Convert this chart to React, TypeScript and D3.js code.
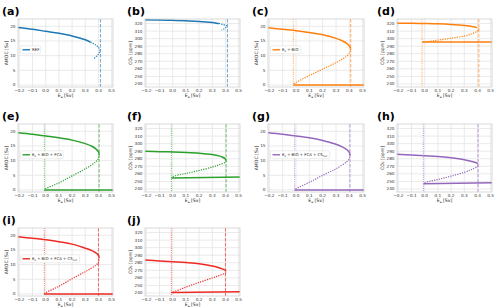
import React from "react";
import * as d3 from "d3";

// x axis (freshwater forcing, Sv)
const xTicks = [-0.2, -0.1, 0.0, 0.1, 0.2, 0.3, 0.4, 0.5];
const amocTicks = [0, 5, 10, 15, 20];
const co2Ticks = [240, 250, 260, 270, 280, 290, 300, 310, 320];

// (a) REF
const refAmocUpper = [[-0.21, 19.6], [-0.1, 19.0], [0, 18.3], [0.1, 17.6], [0.2, 16.7], [0.3, 15.4], [0.34, 14.6]];
const refAmocUnstable = [[0.34, 14.6], [0.38, 13.6], [0.4, 12.8], [0.41, 12.0], [0.405, 11.0], [0.39, 10.0], [0.36, 8.8]];
// (b) REF
const refCo2Upper = [[-0.21, 325], [-0.1, 324.6], [0, 324.2], [0.1, 323.6], [0.2, 322.8], [0.3, 321.3], [0.35, 320]];
const refCo2Unstable = [[0.35, 320], [0.38, 318.8], [0.4, 317.5], [0.41, 316.5], [0.405, 315], [0.39, 313], [0.37, 311]];
const refVlines = [0.415];

// (c) BIO
const bioAmocUpper = [[-0.21, 19.5], [-0.1, 19.0], [0, 18.5], [0.1, 17.9], [0.2, 17.1], [0.3, 15.9], [0.35, 15.0], [0.38, 14.2], [0.4, 13.3], [0.41, 12.4]];
const bioAmocUnstable = [[0.41, 12.4], [0.405, 11.2], [0.38, 9.8], [0.3, 7.6], [0.2, 5.4], [0.1, 3.2], [0.0, 0.8], [-0.02, 0]];
const bioAmocLower = [[-0.02, 0], [0.51, 0]];
// (d) BIO
const bioCo2Upper = [[-0.21, 320.5], [-0.1, 320.3], [0, 320], [0.1, 319.6], [0.2, 318.8], [0.3, 317.5], [0.37, 315.8], [0.39, 315]];
const bioCo2Unstable = [[0.39, 315], [0.41, 313], [0.4, 310], [0.35, 306], [0.3, 303.5], [0.2, 300.5], [0.1, 298], [0.05, 296.8], [-0.02, 295.5]];
const bioCo2Lower = [[-0.02, 295.5], [0.51, 295.5]];
const bioVlines = [-0.02, 0.41];

// (e) BIO + FCA
const fcaAmocUpper = [[-0.21, 19.5], [-0.1, 19.0], [0, 18.4], [0.1, 17.8], [0.2, 17.0], [0.3, 15.8], [0.35, 14.9], [0.38, 14.0], [0.4, 13.0], [0.405, 12.2]];
const fcaAmocUnstable = [[0.405, 12.2], [0.4, 10.8], [0.38, 9.6], [0.3, 7.2], [0.2, 4.8], [0.1, 2.4], [0.0, 0.4], [-0.01, 0]];
const fcaAmocLower = [[-0.01, 0], [0.51, 0]];
// (f) BIO + FCA
const fcaCo2Upper = [[-0.21, 289.8], [-0.1, 289.4], [0, 289], [0.1, 288.4], [0.2, 287.4], [0.3, 285.5], [0.35, 283.8], [0.38, 282], [0.4, 279.5], [0.405, 277.5]];
const fcaCo2Unstable = [[0.405, 277.5], [0.4, 275.5], [0.35, 272], [0.3, 269], [0.2, 264.5], [0.1, 260.5], [0.0, 256.5], [-0.01, 255]];
const fcaCo2Lower = [[-0.01, 254.5], [0.51, 256]];
const fcaVlines = [-0.01, 0.405];

// (g) BIO + FCA + CS_hor
const horAmocUpper = [[-0.21, 19.5], [-0.1, 19.0], [0, 18.4], [0.1, 17.8], [0.2, 16.9], [0.3, 15.6], [0.35, 14.6], [0.38, 13.8], [0.4, 12.8], [0.405, 12.0]];
const horAmocUnstable = [[0.405, 12.0], [0.4, 10.6], [0.38, 9.6], [0.3, 7.2], [0.2, 5.0], [0.1, 2.6], [0.0, 0.4], [-0.01, 0]];
const horAmocLower = [[-0.01, 0], [0.51, 0]];
// (h)
const horCo2Upper = [[-0.21, 286], [-0.1, 285], [0, 284], [0.1, 283], [0.2, 281.2], [0.3, 278.7], [0.35, 276.8], [0.38, 275.3], [0.4, 274]];
const horCo2Unstable = [[0.4, 274], [0.405, 272.5], [0.4, 270], [0.35, 265.5], [0.3, 262], [0.2, 257], [0.1, 252.5], [0.0, 248.5], [-0.01, 247.5]];
const horCo2Lower = [[-0.01, 246.8], [0.51, 248.2]];
const horVlines = [-0.01, 0.405];

// (i) BIO + FCA + CS_ver
const verAmocUpper = [[-0.21, 19.5], [-0.1, 19.0], [0, 18.5], [0.1, 17.8], [0.2, 17.0], [0.3, 15.6], [0.35, 14.8], [0.38, 14.0], [0.4, 13.2], [0.405, 12.6]];
const verAmocUnstable = [[0.405, 12.6], [0.4, 10.8], [0.38, 9.8], [0.3, 7.6], [0.2, 5.2], [0.1, 2.6], [0.0, 0.4], [-0.01, 0]];
const verAmocLower = [[-0.01, 0], [0.51, 0]];
// (j)
const verCo2Upper = [[-0.21, 283.5], [-0.1, 282.4], [0, 281.3], [0.1, 280.2], [0.2, 278.7], [0.3, 275.7], [0.35, 273.5], [0.38, 271.5], [0.4, 270]];
const verCo2Unstable = [[0.4, 270], [0.405, 268.5], [0.4, 266.5], [0.35, 263], [0.3, 259.8], [0.2, 254], [0.1, 247.7], [0.0, 241], [-0.01, 240.5]];
const verCo2Lower = [[-0.01, 240.5], [0.51, 241.5]];
const verVlines = [-0.01, 0.4];

const BLUE = "#1f77b4";
const ORANGE = "#ff7f0e";
const GREEN = "#2ca02c";
const PURPLE = "#9467bd";
const RED = "#ee2a24";

const colX = [18, 145, 268, 397];
const colW = [95, 95, 96, 95];
const labelX = [2, 127, 252, 377];
const rowY = [0, 105, 209];

const panels = [
  { label: "(a)", col: 0, row: 0, kind: "amoc", color: BLUE, legend: "REF", upper: refAmocUpper, unstable: refAmocUnstable, lower: null, vlines: refVlines },
  { label: "(b)", col: 1, row: 0, kind: "co2", color: BLUE, upper: refCo2Upper, unstable: refCo2Unstable, lower: null, vlines: refVlines },
  { label: "(c)", col: 2, row: 0, kind: "amoc", color: ORANGE, legend: "E_{s} + BIO", upper: bioAmocUpper, unstable: bioAmocUnstable, lower: bioAmocLower, vlines: bioVlines },
  { label: "(d)", col: 3, row: 0, kind: "co2", color: ORANGE, upper: bioCo2Upper, unstable: bioCo2Unstable, lower: bioCo2Lower, vlines: bioVlines },
  { label: "(e)", col: 0, row: 1, kind: "amoc", color: GREEN, legend: "E_{s} + BIO + FCA", upper: fcaAmocUpper, unstable: fcaAmocUnstable, lower: fcaAmocLower, vlines: fcaVlines },
  { label: "(f)", col: 1, row: 1, kind: "co2", color: GREEN, upper: fcaCo2Upper, unstable: fcaCo2Unstable, lower: fcaCo2Lower, vlines: fcaVlines },
  { label: "(g)", col: 2, row: 1, kind: "amoc", color: PURPLE, legend: "E_{s} + BIO + FCA + CS_{hor}", upper: horAmocUpper, unstable: horAmocUnstable, lower: horAmocLower, vlines: horVlines },
  { label: "(h)", col: 3, row: 1, kind: "co2", color: PURPLE, upper: horCo2Upper, unstable: horCo2Unstable, lower: horCo2Lower, vlines: horVlines },
  { label: "(i)", col: 0, row: 2, kind: "amoc", color: RED, legend: "E_{s} + BIO + FCA + CS_{ver}", upper: verAmocUpper, unstable: verAmocUnstable, lower: verAmocLower, vlines: verVlines },
  { label: "(j)", col: 1, row: 2, kind: "co2", color: RED, upper: verCo2Upper, unstable: verCo2Unstable, lower: verCo2Lower, vlines: verVlines },
];

const FONT = "DejaVu Sans, sans-serif";

// "E_{s} + BIO" -> tspans with subscripts
function richText(s: string, size: number) {
  const parts: any[] = [];
  const re = /_\{([^}]*)\}/g;
  let last = 0;
  let m;
  let k = 0;
  let pendingDy = 0;
  while ((m = re.exec(s)) !== null) {
    if (m.index > last) {
      parts.push(<tspan key={k++} dy={pendingDy || undefined}>{s.slice(last, m.index)}</tspan>);
      pendingDy = 0;
    }
    parts.push(<tspan key={k++} fontSize={size * 0.7} dy={size * 0.25 + pendingDy}>{m[1]}</tspan>);
    pendingDy = -size * 0.25;
    last = m.index + m[0].length;
  }
  if (last < s.length) parts.push(<tspan key={k++} dy={pendingDy || undefined}>{s.slice(last)}</tspan>);
  return parts;
}

function fmt(v: number) {
  return v.toFixed(1).replace("-", "\u2212");
}

function Panel({ p }: { p: any }) {
  const left = colX[p.col];
  const right = left + colW[p.col];
  const top = rowY[p.row] + 19;
  const bottom = rowY[p.row] + 87;
  const x = d3.scaleLinear().domain([-0.21, 0.51]).range([left, right]);
  const y = p.kind === "amoc"
    ? d3.scaleLinear().domain([-0.7, 22.5]).range([bottom, top])
    : d3.scaleLinear().domain([236, 326]).range([bottom, top]);
  const yTicks = p.kind === "amoc" ? amocTicks : co2Ticks;
  const line = d3.line<number[]>().x((d) => x(d[0])).y((d) => y(d[1])).curve(d3.curveCatmullRom.alpha(0.5));
  const clipId = "clip" + p.label.replace(/[()]/g, "");
  const tickSize = 4.2;
  const legendSize = 3.9;
  const legendText = p.legend ? p.legend.replace(/_\{([^}]*)\}/g, "$1") : "";
  const legendW = 14 + legendText.length * 2.05;
  const legendY = y(12);

  return (
    <g>
      <text x={labelX[p.col]} y={rowY[p.row] + 15} fontSize={11} fontWeight="bold" fontFamily={FONT} fill="#000">
        {p.label}
      </text>
      <defs>
        <clipPath id={clipId}>
          <rect x={left} y={top} width={right - left} height={bottom - top} />
        </clipPath>
      </defs>
      <rect x={left} y={top} width={right - left} height={bottom - top} fill="#fff" />
      {xTicks.map((t) => (
        <line key={"gx" + t} x1={x(t)} x2={x(t)} y1={top} y2={bottom} stroke="#e4e4e4" strokeWidth={0.8} />
      ))}
      {yTicks.map((t) => (
        <line key={"gy" + t} x1={left} x2={right} y1={y(t)} y2={y(t)} stroke="#e4e4e4" strokeWidth={0.8} />
      ))}
      <g clipPath={`url(#${clipId})`}>
        {p.vlines.map((v: number, i: number) => (
          <line key={"v" + i} x1={x(v)} x2={x(v)} y1={top} y2={bottom} stroke={p.color} strokeOpacity={0.6}
            strokeWidth={1.1} strokeDasharray={p.vlines.length > 1 && i === 0 ? "1.1,1.1" : "3.5,1.5"} />
        ))}
        <path d={line(p.upper) || ""} fill="none" stroke={p.color} strokeWidth={1.5} />
        <path d={line(p.unstable) || ""} fill="none" stroke={p.color} strokeWidth={1.2} strokeDasharray="1.2,1.2" />
        {p.lower && <path d={line(p.lower) || ""} fill="none" stroke={p.color} strokeWidth={1.5} />}
      </g>
      <rect x={left} y={top} width={right - left} height={bottom - top} fill="none" stroke="#cfcfcf" strokeWidth={0.8} />
      {xTicks.map((t) => (
        <text key={"tx" + t} x={x(t)} y={bottom + 5} fontSize={tickSize} textAnchor="middle" fontFamily={FONT} fill="#333">
          {fmt(t)}
        </text>
      ))}
      {yTicks.map((t) => (
        <text key={"ty" + t} x={left - 2.5} y={y(t) + 1.5} fontSize={tickSize} textAnchor="end" fontFamily={FONT} fill="#333">
          {t}
        </text>
      ))}
      <text x={(left + right) / 2} y={bottom + 9.5} fontSize={4.6} textAnchor="middle" fontFamily={FONT} fill="#222">
        {richText("E_{a} [Sv]", 4.6)}
      </text>
      <text transform={`translate(${left - (p.kind === "amoc" ? 10 : 13)},${(top + bottom) / 2}) rotate(-90)`} fontSize={4.6}
        textAnchor="middle" fontFamily={FONT} fill="#222">
        {p.kind === "amoc" ? "AMOC [Sv]" : "CO\u2082 [ppm]"}
      </text>
      {p.legend && (
        <g>
          <rect x={left + 2.5} y={legendY - 4} width={legendW} height={8} rx={1.2} fill="#fff" fillOpacity={0.85} stroke="#d8d8d8" strokeWidth={0.5} />
          <line x1={left + 4.5} x2={left + 12} y1={legendY} y2={legendY} stroke={p.color} strokeWidth={1.4} />
          <text x={left + 14} y={legendY + 1.4} fontSize={legendSize} fontFamily={FONT} fill="#222">
            {richText(p.legend, legendSize)}
          </text>
        </g>
      )}
    </g>
  );
}

export default function App() {
  return (
    <svg width={500} height={308} style={{ position: "absolute", left: 0, top: 0, background: "#fff" }}>
      <rect x={0} y={0} width={500} height={308} fill="#fff" />
      {panels.map((p) => (
        <Panel key={p.label} p={p} />
      ))}
    </svg>
  );
}
